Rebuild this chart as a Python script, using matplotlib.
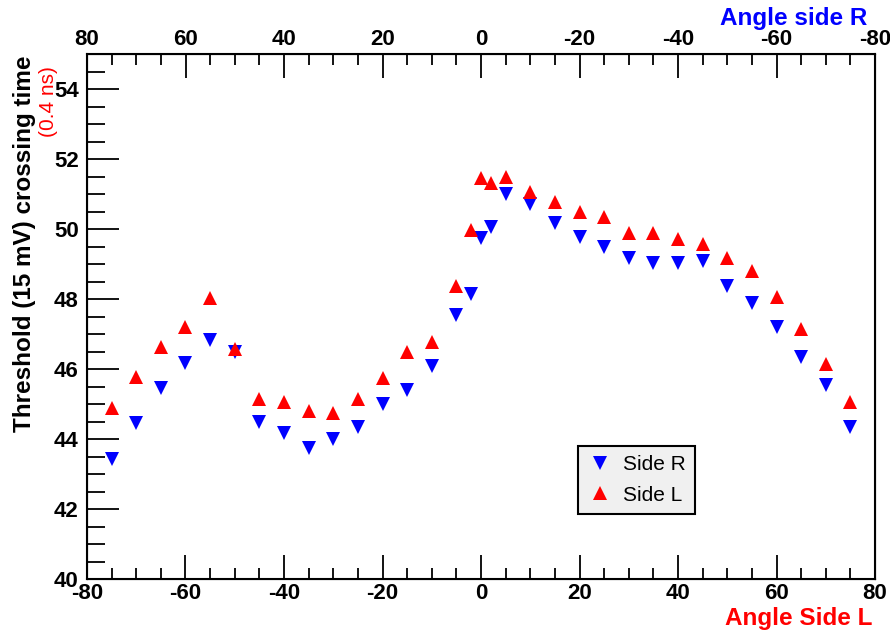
import numpy as np
import matplotlib
matplotlib.use('Agg')
import matplotlib.pyplot as plt
from matplotlib.ticker import MultipleLocator

plt.rcParams['font.family'] = ['Liberation Sans', 'DejaVu Sans']
plt.rcParams['axes.unicode_minus'] = False

#-------------------------------------------------------------------------------
# Data

angle_R = [-75, -70, -65, -60, -55, -50, -45, -40, -35, -30, -25, -20, -15, -10, -5,
           -2, 0, 2, 5, 10, 15, 20, 25, 30, 35, 40, 45, 50, 55, 60, 65, 70, 75]
time_R = [43.43, 44.45, 45.45, 46.17, 46.82, 46.50, 44.49, 44.17, 43.74, 44.0, 44.34,
          45.0, 45.4, 46.1, 47.55, 48.15, 49.75, 50.05, 51.0, 50.72, 50.17, 49.77,
          49.5, 49.17, 49.03, 49.03, 49.1, 48.38, 47.9, 47.2, 46.35, 45.55, 44.35]

angle_L = [-75, -70, -65, -60, -55, -50, -45, -40, -35, -30, -25, -20, -15, -10, -5,
           -2, 0, 2, 5, 10, 15, 20, 25, 30, 35, 40, 45, 50, 55, 60, 65, 70, 75]
time_L = [44.88, 45.77, 46.63, 47.2, 48.03, 46.58, 45.15, 45.05, 44.8, 44.74, 45.15,
          45.75, 46.5, 46.77, 48.37, 49.98, 51.45, 51.32, 51.5, 51.06, 50.77, 50.49,
          50.34, 49.88, 49.9, 49.72, 49.57, 49.17, 48.8, 48.06, 47.14, 46.14, 45.06]

#-------------------------------------------------------------------------------
# Figure

fig = plt.figure(figsize=(8.9, 6.33), dpi=100)
ax = fig.add_axes([87/890, 54/633, 788/890, 525/633])

ax.plot(angle_R, time_R, 'v', color='#0000ff', ms=10, mew=0, label='Side R')
ax.plot(angle_L, time_L, '^', color='#ff0000', ms=10, mew=0, label='Side L')

ax.set_xlim(-80, 80)
ax.set_ylim(40, 55)
ax.xaxis.set_major_locator(MultipleLocator(20))
ax.xaxis.set_minor_locator(MultipleLocator(5))
ax.yaxis.set_major_locator(MultipleLocator(2))
ax.yaxis.set_minor_locator(MultipleLocator(0.5))
ax.tick_params(axis='x', which='major', direction='in', length=17, width=1.3,
               labelsize=16, pad=3, top=False)
ax.tick_params(axis='x', which='minor', direction='in', length=8, width=1.3, top=False)
ax.tick_params(axis='y', which='major', direction='in', length=23, width=1.3,
               labelsize=16, pad=6, right=False)
ax.tick_params(axis='y', which='minor', direction='in', length=13, width=1.3, right=False)
for lab in ax.get_xticklabels() + ax.get_yticklabels():
    lab.set_fontweight('bold')
for sp in ax.spines.values():
    sp.set_linewidth(1.5)

# top axis, reversed (side R)
ax2 = ax.twiny()
ax2.set_xlim(80, -80)
ax2.xaxis.set_major_locator(MultipleLocator(20))
ax2.xaxis.set_minor_locator(MultipleLocator(5))
ax2.tick_params(axis='x', which='major', direction='in', length=17, width=1.3,
                labelsize=16, pad=3)
ax2.tick_params(axis='x', which='minor', direction='in', length=8, width=1.3)
for lab in ax2.get_xticklabels():
    lab.set_fontweight('bold')

# axis titles
fig.text(872/890, 1 - 618/633, 'Angle Side L', color='#ff0000', fontsize=17.5,
         fontweight='bold', ha='right', va='center')
fig.text(867/890, 1 - 19/633, 'Angle side R', color='#0000ff', fontsize=17.5,
         fontweight='bold', ha='right', va='center')
fig.text(25/890, 1 - 56/633, 'Threshold (15 mV) crossing time', color='black',
         fontsize=17.5, fontweight='bold', rotation=90, ha='center', va='top')
fig.text(48/890, 1 - 66/633, '(0.4 ns)', color='#ff0000', fontsize=15,
         rotation=90, ha='center', va='top')

leg = ax.legend(loc='lower left', bbox_to_anchor=(0.623, 0.124), fontsize=15,
                frameon=True, fancybox=False, edgecolor='black',
                facecolor='#f0f0f0', framealpha=1, handletextpad=0.5,
                borderpad=0.45, labelspacing=0.55, handlelength=1.2, borderaxespad=0)
leg.get_frame().set_linewidth(1.5)

fig.savefig('out.png', dpi=100)
